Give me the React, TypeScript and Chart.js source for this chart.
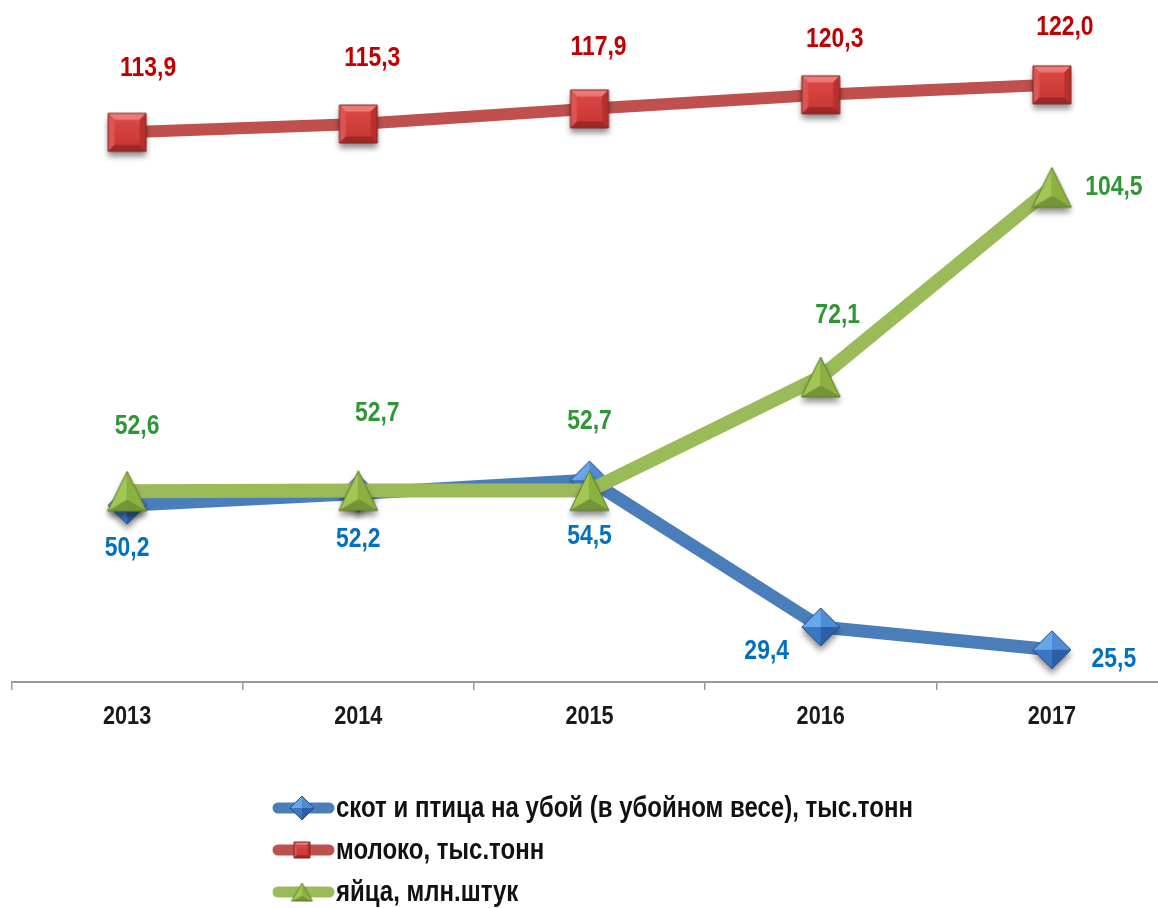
import { useEffect, useRef } from 'react';
import { Chart, registerables } from 'chart.js';

Chart.register(...registerables);

const years = ['2013', '2014', '2015', '2016', '2017'];
const livestock = [50.2, 52.2, 54.5, 29.4, 25.5];
const milk = [113.9, 115.3, 117.9, 120.3, 122.0];
const eggs = [52.6, 52.7, 52.7, 72.1, 104.5];
const seriesNames = [
  'скот и птица на убой (в убойном весе), тыс.тонн',
  'молоко, тыс.тонн',
  'яйца, млн.штук',
];

// label offsets relative to each point (manually placed labels in the original)
const livestockLabelShift = [[0, 43], [0, 46], [0, 57], [-54, 25], [62, 10]];
const milkLabelShift = [[21, -64], [14, -66], [9, -61], [14, -55], [13, -57]];
const eggsLabelShift = [[10, -65], [19, -77], [0, -69], [17, -61], [62, 0]];

const FONT = "'Liberation Sans', Arial, sans-serif";
const NARROW = 0.85;

type Kind = 'square' | 'diamond' | 'triangle';

function poly(ctx: CanvasRenderingContext2D, pts: number[][]) {
  ctx.beginPath();
  ctx.moveTo(pts[0][0], pts[0][1]);
  for (let i = 1; i < pts.length; i++) ctx.lineTo(pts[i][0], pts[i][1]);
  ctx.closePath();
}

function makeMarker(kind: Kind, w: number, h: number, shadow: boolean): HTMLCanvasElement {
  const pad = shadow ? 12 : 2;
  const c = document.createElement('canvas');
  c.width = Math.round(w + pad * 2);
  c.height = Math.round(h + pad * 2);
  const ctx = c.getContext('2d')!;
  const cx = c.width / 2;
  const cy = c.height / 2;
  const l = cx - w / 2, t = cy - h / 2, r = cx + w / 2, b = cy + h / 2;
  let outline: number[][];
  if (kind === 'square') outline = [[l, t], [r, t], [r, b], [l, b]];
  else if (kind === 'diamond') outline = [[cx, t], [r, cy], [cx, b], [l, cy]];
  else outline = [[cx, t], [r, b], [l, b]];

  if (shadow) {
    ctx.save();
    ctx.shadowColor = 'rgba(0,0,0,0.45)';
    ctx.shadowBlur = 6;
    ctx.shadowOffsetY = 5;
    ctx.fillStyle = '#777';
    poly(ctx, outline);
    ctx.fill();
    ctx.restore();
  }

  if (kind === 'square') {
    const bv = w * 0.17;
    const g = ctx.createLinearGradient(0, t, 0, b);
    g.addColorStop(0, '#DE4A47');
    g.addColorStop(1, '#C73532');
    ctx.fillStyle = g;
    poly(ctx, outline);
    ctx.fill();
    ctx.fillStyle = '#EC7A76';
    poly(ctx, [[l, t], [r, t], [r - bv, t + bv], [l + bv, t + bv]]);
    ctx.fill();
    ctx.fillStyle = '#DB5652';
    poly(ctx, [[l, t], [l + bv, t + bv], [l + bv, b - bv], [l, b]]);
    ctx.fill();
    ctx.fillStyle = '#B8302D';
    poly(ctx, [[r, t], [r - bv, t + bv], [r - bv, b - bv], [r, b]]);
    ctx.fill();
    ctx.fillStyle = '#9E2826';
    poly(ctx, [[l, b], [l + bv, b - bv], [r - bv, b - bv], [r, b]]);
    ctx.fill();
    ctx.strokeStyle = '#7A2422';
  } else if (kind === 'diamond') {
    ctx.fillStyle = '#68A6EA';
    poly(ctx, [[cx, t], [cx, cy], [l, cy]]);
    ctx.fill();
    ctx.fillStyle = '#4E8CD6';
    poly(ctx, [[cx, t], [r, cy], [cx, cy]]);
    ctx.fill();
    ctx.fillStyle = '#3A76C2';
    poly(ctx, [[l, cy], [cx, cy], [cx, b]]);
    ctx.fill();
    ctx.fillStyle = '#2B5FA6';
    poly(ctx, [[cx, cy], [r, cy], [cx, b]]);
    ctx.fill();
    ctx.strokeStyle = '#2A4F82';
  } else {
    const ix = cx, iy = t + h * 0.72;
    ctx.fillStyle = '#A2C653';
    poly(ctx, [[cx, t], [l, b], [ix, iy]]);
    ctx.fill();
    ctx.fillStyle = '#8DB13F';
    poly(ctx, [[cx, t], [ix, iy], [r, b]]);
    ctx.fill();
    ctx.fillStyle = '#739535';
    poly(ctx, [[l, b], [ix, iy], [r, b]]);
    ctx.fill();
    ctx.strokeStyle = '#5F7D2A';
  }
  ctx.lineWidth = 1;
  poly(ctx, outline);
  ctx.stroke();
  return c;
}

const fmt = (v: number) => v.toFixed(1).replace('.', ',');

function narrowText(
  ctx: CanvasRenderingContext2D,
  text: string,
  x: number,
  y: number,
  align: 'left' | 'center',
  sx: number,
) {
  ctx.save();
  ctx.translate(x, y);
  ctx.scale(sx, 1);
  ctx.textAlign = align;
  ctx.fillText(text, 0, 0);
  ctx.restore();
}

export default function App() {
  const ref = useRef<HTMLCanvasElement | null>(null);

  useEffect(() => {
    if (!ref.current) return;
    const diamond = makeMarker('diamond', 38, 38, true);
    const square = makeMarker('square', 38, 38, true);
    const triangle = makeMarker('triangle', 39, 40, true);
    const legendMarkers = [
      makeMarker('diamond', 24, 24, false),
      makeMarker('square', 16, 16, false),
      makeMarker('triangle', 21, 18, false),
    ];
    const lineColors = ['#4A7EBB', '#C0504D', '#9BBB59'];
    const labelColors = ['#0070C0', '#C00000', '#2F9636'];
    const shifts = [livestockLabelShift, milkLabelShift, eggsLabelShift];

    const labelsPlugin = {
      id: 'valueLabels',
      afterDatasetsDraw(chart: any) {
        const ctx = chart.ctx as CanvasRenderingContext2D;
        ctx.save();
        ctx.font = `bold 27px ${FONT}`;
        ctx.textBaseline = 'middle';
        chart.data.datasets.forEach((ds: any, d: number) => {
          const meta = chart.getDatasetMeta(d);
          meta.data.forEach((el: any, j: number) => {
            const [dx, dy] = shifts[d][j];
            ctx.fillStyle = labelColors[d];
            narrowText(ctx, fmt(ds.data[j]), el.x + dx, el.y + dy, 'center', NARROW);
          });
        });
        ctx.restore();
      },
      afterDraw(chart: any) {
        const ctx = chart.ctx as CanvasRenderingContext2D;
        ctx.save();
        // category labels under the axis
        const xs = chart.scales.x;
        ctx.fillStyle = '#1A1A1A';
        ctx.font = `bold 25.5px ${FONT}`;
        ctx.textBaseline = 'alphabetic';
        chart.data.labels.forEach((lab: string, i: number) => {
          narrowText(ctx, lab, xs.getPixelForTick(i), chart.chartArea.bottom + 42, 'center', NARROW);
        });
        // legend
        const rowsY = [808, 850, 892];
        seriesNames.forEach((name, i) => {
          const y = rowsY[i];
          ctx.strokeStyle = lineColors[i];
          ctx.lineWidth = 11;
          ctx.lineCap = 'round';
          ctx.beginPath();
          ctx.moveTo(278, y);
          ctx.lineTo(329, y);
          ctx.stroke();
          const m = legendMarkers[i];
          ctx.drawImage(m, 302 - m.width / 2, y - m.height / 2);
          ctx.fillStyle = '#111';
          ctx.font = `bold 30px ${FONT}`;
          ctx.textBaseline = 'alphabetic';
          narrowText(ctx, name, 336, y + 9, 'left', 0.8);
        });
        ctx.restore();
      },
    };

    const chart = new Chart(ref.current, {
      type: 'line',
      data: {
        labels: years,
        datasets: [
          {
            label: seriesNames[0],
            data: livestock,
            borderColor: lineColors[0],
            backgroundColor: lineColors[0],
            borderWidth: 13,
            pointStyle: diamond as any,
            pointRadius: 20,
            tension: 0,
            order: 2,
          },
          {
            label: seriesNames[1],
            data: milk,
            borderColor: lineColors[1],
            backgroundColor: lineColors[1],
            borderWidth: 12,
            pointStyle: square as any,
            pointRadius: 20,
            tension: 0,
            order: 1,
          },
          {
            label: seriesNames[2],
            data: eggs,
            borderColor: lineColors[2],
            backgroundColor: lineColors[2],
            borderWidth: 14,
            pointStyle: triangle as any,
            pointRadius: 20,
            tension: 0,
            order: 0,
          },
        ],
      },
      options: {
        animation: false,
        responsive: false,
        devicePixelRatio: 1,
        layout: { autoPadding: false, padding: { left: 11.5, right: 2.5, top: 38, bottom: 0 } },
        plugins: { legend: { display: false }, tooltip: { enabled: false } },
        scales: {
          x: {
            type: 'category',
            offset: true,
            grid: {
              display: true,
              offset: true,
              drawOnChartArea: false,
              drawTicks: true,
              tickLength: 8,
              color: '#9A9A9A',
              lineWidth: 1.5,
            },
            border: { display: true, color: '#9A9A9A', width: 2 },
            ticks: {
              color: 'rgba(0,0,0,0)',
              font: { family: FONT, size: 24, weight: 'bold' },
              padding: 10,
              maxRotation: 0,
            },
            afterFit: (s: any) => {
              s.height = 226;
            },
          },
          y: { display: false, min: 20, max: 130 },
        },
      },
      plugins: [labelsPlugin],
    });
    return () => chart.destroy();
  }, []);

  return (
    <div style={{ position: 'fixed', left: 0, top: 0, width: 1158, height: 908, overflow: 'hidden', background: '#fff' }}>
      <canvas ref={ref} width={1170} height={908} style={{ position: 'absolute', left: 0, top: 0, width: 1170, height: 908 }} />
    </div>
  );
}
